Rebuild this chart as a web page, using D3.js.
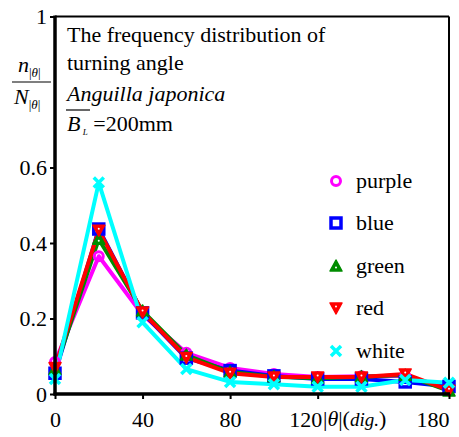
<!DOCTYPE html>
<html>
<head>
<meta charset="utf-8">
<script src="https://cdn.jsdelivr.net/npm/d3@7"></script>
</head>
<body style="margin:0">
<script>
// data
var angles = [0, 20, 40, 60, 80, 100, 120, 140, 160, 180];
var purple = [0.085, 0.365, 0.21, 0.109, 0.069, 0.053, 0.045, 0.047, 0.048, 0.012];
var blue   = [0.055, 0.437, 0.215, 0.095, 0.062, 0.048, 0.04, 0.04, 0.032, 0.02];
var green  = [0.065, 0.41, 0.22, 0.103, 0.058, 0.046, 0.042, 0.046, 0.05, 0.008];
var red    = [0.07, 0.434, 0.217, 0.097, 0.055, 0.045, 0.045, 0.045, 0.053, 0.01];
var white  = [0.04, 0.56, 0.19, 0.066, 0.032, 0.026, 0.019, 0.019, 0.037, 0.03];
var seriesNames = ["purple", "blue", "green", "red", "white"];
var seriesColors = ["#ff00ff", "#0000ff", "#008c00", "#ff0000", "#00ffff"];
var yTicks = [0, 0.2, 0.4, 0.6, 1];
var xTickLabels = [0, 40, 80, 120, 180];

var width = 459;
var height = 437;
var svg = d3.select('body')
    .append("svg")
    .attr("width", width)
    .attr("height", height)
    .style("display", "block")
    .style("font-family", "'Times New Roman'");

var plotMargins = { top: 16.5, bottom: 43, left: 55, right: 10 };
var xScale = d3.scaleLinear()
    .domain([0, 180])
    .range([plotMargins.left, width - plotMargins.right]);
var yScale = d3.scaleLinear()
    .domain([0, 1])
    .range([height - plotMargins.bottom, plotMargins.top]);

var allSeries = [purple, blue, green, red, white];

function addText(parent, x, y, size) {
    return parent.append("text")
        .attr("x", x).attr("y", y)
        .style("font-family", "'Times New Roman'")
        .style("font-size", size + "px");
}

// frame: top and right thin
svg.append("line")
    .attr("x1", xScale(0)).attr("x2", xScale(180))
    .attr("y1", yScale(1)).attr("y2", yScale(1))
    .style("stroke", "#000").style("stroke-width", 2);
svg.append("line")
    .attr("x1", xScale(180)).attr("x2", xScale(180))
    .attr("y1", yScale(1)).attr("y2", yScale(0))
    .style("stroke", "#000").style("stroke-width", 2);

// lines
var line = d3.line()
    .x(function (d, i) { return xScale(angles[i]); })
    .y(function (d) { return yScale(d); });

var seriesGroup = svg.append("g").classed("series", true);
allSeries.forEach(function (vals, s) {
    seriesGroup.append("path")
        .datum(vals)
        .attr("d", line)
        .style("fill", "none")
        .style("stroke", seriesColors[s])
        .style("stroke-width", 4)
        .style("stroke-linejoin", "round");
});

function drawMarker(g, kind, color) {
    if (kind === 0) {
        g.append("circle").attr("r", 4.5)
            .style("fill", "none").style("stroke", color).style("stroke-width", 3);
    } else if (kind === 1) {
        g.append("rect").attr("x", -5).attr("y", -5).attr("width", 10).attr("height", 10)
            .style("fill", "none").style("stroke", color).style("stroke-width", 3.5);
    } else if (kind === 2) {
        g.append("path").attr("d", "M0,-6L6,5L-6,5Z")
            .style("fill", color).style("stroke", color).style("stroke-width", 1.5)
            .style("stroke-linejoin", "round");
        g.append("circle").attr("r", 1).attr("cy", 1.5).style("fill", "#fff");
    } else if (kind === 3) {
        g.append("path").attr("d", "M-6,-5L6,-5L0,6Z")
            .style("fill", color).style("stroke", color).style("stroke-width", 1.5)
            .style("stroke-linejoin", "round");
        g.append("circle").attr("r", 1).attr("cy", -1.5).style("fill", "#fff");
    } else {
        g.append("path").attr("d", "M-5,-5L5,5M-5,5L5,-5")
            .style("stroke", color).style("stroke-width", 3.5);
    }
}

allSeries.forEach(function (vals, s) {
    var pts = seriesGroup.selectAll(".pt" + s)
        .data(vals)
        .enter()
        .append("g")
        .classed("pt" + s, true)
        .attr("transform", function (d, i) { return "translate(" + xScale(angles[i]) + "," + yScale(d) + ")"; });
    pts.each(function () { drawMarker(d3.select(this), s, seriesColors[s]); });
});

// axes
var yAxis = d3.axisLeft(yScale)
    .tickValues(yTicks)
    .tickSize(5)
    .tickFormat(function (d) { return d === 0 || d === 1 ? d : d3.format(".1f")(d); });
var yAxisGroup = svg.append("g")
    .attr("transform", "translate(" + xScale(0) + ",0)")
    .call(yAxis)
    .attr("font-family", null)
    .attr("font-size", null);
yAxisGroup.select(".domain").remove();
yAxisGroup.selectAll(".tick line").style("stroke-width", 2);
yAxisGroup.selectAll(".tick text")
    .style("font-family", "'Times New Roman'")
    .style("font-size", "22px")
    .attr("x", -8)
    .attr("dy", "0.32em");
svg.append("line")
    .attr("x1", xScale(0)).attr("x2", xScale(0))
    .attr("y1", yScale(1) - 1).attr("y2", yScale(0) + 1.5)
    .style("stroke", "#000").style("stroke-width", 3.5);

var xAxis = d3.axisBottom(xScale)
    .tickValues(xTickLabels)
    .tickSize(5)
    .tickPadding(12);
var xAxisGroup = svg.append("g")
    .attr("transform", "translate(0," + yScale(0) + ")")
    .call(xAxis)
    .attr("font-family", null)
    .attr("font-size", null);
xAxisGroup.select(".domain").remove();
xAxisGroup.selectAll(".tick line").style("stroke-width", 2);
xAxisGroup.selectAll(".tick text")
    .style("font-family", "'Times New Roman'")
    .style("font-size", "22px")
    .attr("text-anchor", function (d) { return d >= 120 ? "end" : "middle"; })
    .attr("x", function (d) { return d === 120 ? 4 : 0; });
svg.append("line")
    .attr("x1", xScale(0) - 1.5).attr("x2", xScale(180) + 1)
    .attr("y1", yScale(0)).attr("y2", yScale(0))
    .style("stroke", "#000").style("stroke-width", 3.5);

// x axis label |θ|(dig.)
var xLab = addText(svg, 323, yScale(0) + 32, 22);
xLab.append("tspan").text("|");
xLab.append("tspan").style("font-style", "italic").text("θ");
xLab.append("tspan").text("|(");
xLab.append("tspan").style("font-style", "italic").style("font-size", "19px").text("dig.");
xLab.append("tspan").text(")");

// y axis label: fraction
var yLab = svg.append("g").classed("ylabel", true);
var num = addText(yLab, 18, 72, 22);
num.append("tspan").style("font-style", "italic").text("n");
num.append("tspan").attr("dy", 5).style("font-size", "13px").text("|");
num.append("tspan").style("font-size", "13px").style("font-style", "italic").text("θ");
num.append("tspan").style("font-size", "13px").text("|");
yLab.append("line")
    .attr("x1", 12).attr("x2", 51)
    .attr("y1", 82).attr("y2", 82)
    .style("stroke", "#000").style("stroke-width", 1.2);
var den = addText(yLab, 14, 104, 22);
den.append("tspan").style("font-style", "italic").text("N");
den.append("tspan").attr("dy", 5).style("font-size", "13px").text("|");
den.append("tspan").style("font-size", "13px").style("font-style", "italic").text("θ");
den.append("tspan").style("font-size", "13px").text("|");

// annotation
var notes = svg.append("g").classed("notes", true);
addText(notes, 67, 42, 22).text("The frequency distribution of");
addText(notes, 67, 70, 22).text("turning angle");
addText(notes, 67, 101, 22).style("font-style", "italic").text("Anguilla japonica");
notes.append("line")
    .attr("x1", 66).attr("x2", 90).attr("y1", 110).attr("y2", 110)
    .style("stroke", "#000").style("stroke-width", 1.2);
var bl = addText(notes, 67, 131, 22);
bl.append("tspan").style("font-style", "italic").text("B");
bl.append("tspan").attr("dy", 4).style("font-size", "9px").style("font-style", "italic").text(" L");
bl.append("tspan").attr("dy", -4).text(" =200mm");

// legend
var legendsGroup = svg.append("g").classed("legends", true);
var legY = [181, 223, 266, 308, 351];
var legItems = legendsGroup.selectAll(".leg")
    .data(seriesNames)
    .enter()
    .append("g")
    .classed("leg", true)
    .attr("transform", function (d, i) { return "translate(336," + legY[i] + ")"; });
legItems.each(function (d, i) { drawMarker(d3.select(this), i, seriesColors[i]); });
legItems.append("text")
    .attr("x", 20)
    .attr("dy", "0.32em")
    .style("font-family", "'Times New Roman'")
    .style("font-size", "22px")
    .text(function (d) { return d; });
</script>
</body>
</html>
